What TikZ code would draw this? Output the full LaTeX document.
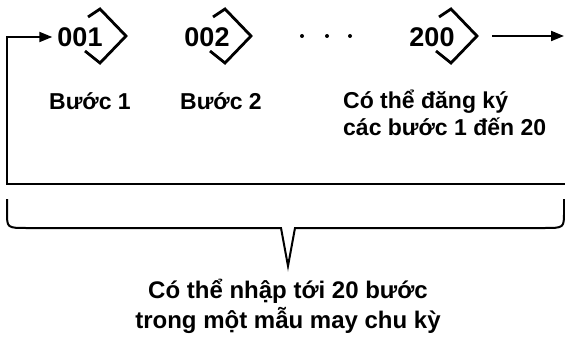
\documentclass[tikz,border=0pt]{standalone}
\usepackage{fontspec}
\setmainfont{Liberation Sans}
\usetikzlibrary{arrows.meta}
\begin{document}
\begin{tikzpicture}[x=1pt,y=-1pt,
  num/.style={font=\fontsize{27pt}{30pt}\selectfont\bfseries, inner sep=0pt, anchor=base},
  lbl/.style={font=\fontsize{23pt}{27pt}\selectfont\bfseries, inner sep=0pt, align=left, anchor=base west},
  btxt/.style={font=\fontsize{24pt}{30pt}\selectfont\bfseries, inner sep=0pt, align=center, anchor=base},
  dia/.style={line width=2.8pt, line join=miter},
  conn/.style={line width=2pt},
  arr/.style={conn, -{Triangle[length=13pt,width=10pt]}},
  dot/.style={fill=black, circle, inner sep=0pt, minimum size=4pt}
]
\useasboundingbox (0,0) rectangle (565,345);
% diamonds behind the numbers
\foreach \cx in {100,225,451}{
  \draw[dia] (\cx-12,17) -- (\cx,9) -- (\cx+26,36) -- (\cx,63) -- (\cx-15,51);
}
\node[num] (n1) at (80,47) {001};
\node[num] (n2) at (207,47) {002};
\node[num] (n3) at (432,47) {200};
\node[dot] (d1) at (302,36) {};
\node[dot] (d2) at (327,36) {};
\node[dot] (d3) at (350,36) {};
% loop line
\coordinate (c1) at (565,184);
\coordinate (c2) at (7,184);
\coordinate (c3) at (7,37);
\coordinate (a1) at (492,36);
\coordinate (a2) at (564,36);
\draw[arr] (c1) -- (c2) -- (c3) -- ([xshift=-5pt]n1.west |- c3);
\draw[arr] (a1) -- (a2);
% labels
\node[lbl] (s1) at (49,110) {Bước 1};
\node[lbl] (s2) at (180,110) {Bước 2};
\node[lbl] (s3) at (343,135) {Có thể đăng ký\\các bước 1 đến 20};
% brace
\coordinate (b1) at (7,199);
\coordinate (b2) at (564,199);
\coordinate (bt) at (288,266);
\draw[conn, line join=miter] (b1) -- (7,212) .. controls (7,228) .. (27,228) -- (281,228) -- (bt) -- (295,228) -- (544,228) .. controls (564,228) .. (564,212) -- (b2);
\node[btxt] (t) at (288,328) {Có thể nhập tới 20 bước\\trong một mẫu may chu kỳ};
\end{tikzpicture}
\end{document}
